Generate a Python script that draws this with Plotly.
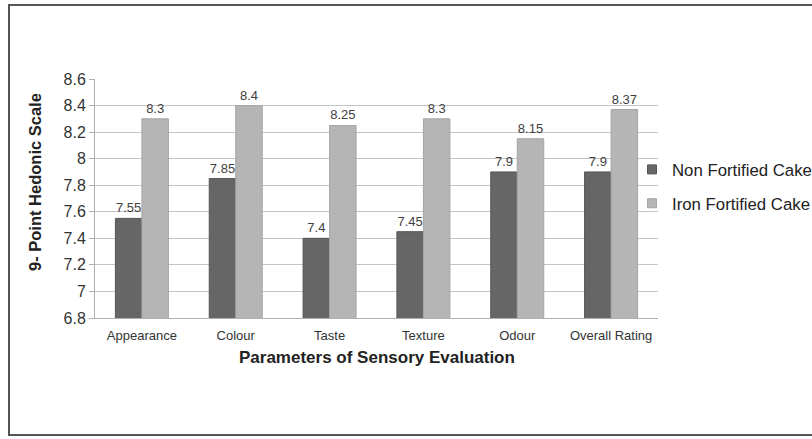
import plotly.graph_objects as go

# Sensory evaluation scores on a 9-point hedonic scale
parameters = ["Appearance", "Colour", "Taste", "Texture", "Odour", "Overall Rating"]
non_fortified = [7.55, 7.85, 7.4, 7.45, 7.9, 7.9]
iron_fortified = [8.3, 8.4, 8.25, 8.3, 8.15, 8.37]
y_ticks = [6.8, 7.0, 7.2, 7.4, 7.6, 7.8, 8.0, 8.2, 8.4, 8.6]
series_names = ["Non Fortified Cake", "Iron Fortified Cake"]
series_fill = ["#666666", "#b5b5b5"]
series_edge = ["#555555", "#a5a5a5"]

W, H = 812, 439
L, R, T, B = 95, 154, 79, 121
PW, PH = W - L - R, H - T - B


def px_x(x):
    return (x - L) / PW


def px_y(y):
    return (H - B - y) / PH


FONT = "Liberation Sans, Arial, sans-serif"

fig = go.Figure()
for name, vals, fill, edge in zip(series_names, [non_fortified, iron_fortified],
                                  series_fill, series_edge):
    fig.add_trace(go.Bar(
        x=parameters, y=vals, name=name, showlegend=False,
        marker=dict(color=fill, line=dict(color=edge, width=1)),
        texttemplate="%{y}", textposition="outside", cliponaxis=False,
        textfont=dict(size=13, color="#404040", family=FONT),
    ))

# small square keys for the legend
for i, (name, fill, edge) in enumerate(zip(series_names, series_fill, series_edge)):
    fig.add_trace(go.Scatter(
        x=[None], y=[None], mode="markers", name=name,
        marker=dict(symbol="square", size=9, color=fill,
                    line=dict(color=edge, width=1)),
        legendgroup=f"g{i}", hoverinfo="skip",
    ))

fig.update_layout(
    width=W, height=H,
    margin=dict(l=L, r=R, t=T, b=B, pad=0, autoexpand=False),
    paper_bgcolor="white", plot_bgcolor="white",
    barmode="group", bargap=0.435, bargroupgap=0,
    font=dict(family=FONT, color="#333333"),
    showlegend=True,
    legend=dict(
        x=px_x(632), y=px_y(152), xanchor="left", yanchor="top",
        font=dict(size=16.8, color="#222222", family=FONT),
        itemwidth=30, tracegroupgap=9, bgcolor="rgba(0,0,0,0)",
    ),
    xaxis=dict(
        showgrid=False, showline=True, linecolor="#b0b0b0", linewidth=1,
        ticks="", tickfont=dict(size=13, color="#333333", family=FONT),
        ticklabelstandoff=5, fixedrange=True,
    ),
    yaxis=dict(
        range=[6.8, 8.6], tickvals=y_ticks,
        ticktext=[f"{v:g}" for v in y_ticks],
        showgrid=True, gridcolor="#c4c4c4", gridwidth=1,
        showline=True, linecolor="#b0b0b0", linewidth=1,
        ticks="outside", ticklen=5, tickcolor="#b0b0b0",
        tickfont=dict(size=16, color="#333333", family=FONT),
        zeroline=False, fixedrange=True,
    ),
    shapes=[dict(
        type="rect", xref="paper", yref="paper",
        x0=px_x(9), x1=px_x(814), y0=px_y(435), y1=px_y(5),
        line=dict(color="#555555", width=2), fillcolor="rgba(0,0,0,0)",
        layer="below",
    )],
    annotations=[
        dict(text="<b>9- Point Hedonic Scale</b>", textangle=-90,
             xref="paper", yref="paper", x=px_x(35), y=px_y(182),
             xanchor="center", yanchor="middle", showarrow=False,
             font=dict(size=16.5, color="#222222", family=FONT)),
        dict(text="<b>Parameters of Sensory Evaluation</b>",
             xref="paper", yref="paper", x=0.5, y=px_y(357),
             xanchor="center", yanchor="middle", showarrow=False,
             font=dict(size=17, color="#222222", family=FONT)),
    ],
)

fig.write_html("out.html")
